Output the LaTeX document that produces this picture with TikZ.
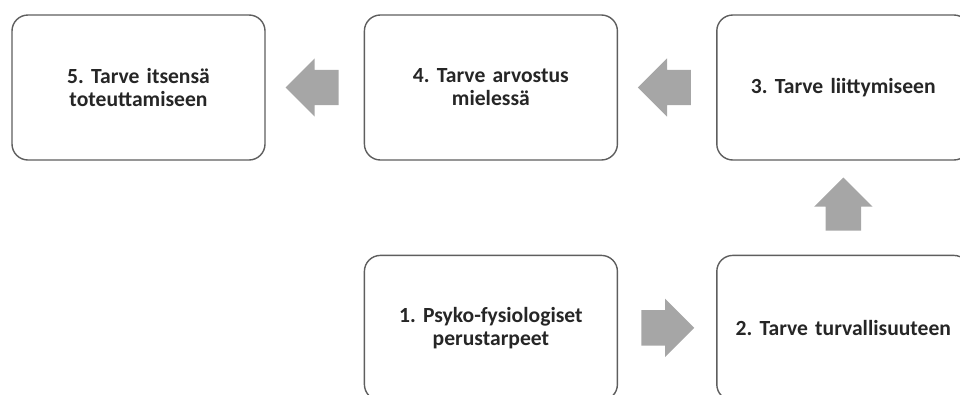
\documentclass[tikz,border=0pt]{standalone}
\usepackage{fontspec}
\setmainfont{Carlito}
\usetikzlibrary{positioning, shapes.arrows, calc}
\definecolor{boxline}{HTML}{5E5E5E}
\definecolor{arrowgray}{HTML}{A6A6A6}
\definecolor{textdark}{HTML}{262626}
\frenchspacing

\begin{document}
\begin{tikzpicture}[x=1pt, y=-1pt,
    needbox/.style={rectangle, rounded corners=16pt, draw=boxline, line width=1.4pt, fill=white,
        minimum width=253pt, minimum height=145pt, text width=245pt, align=center,
        text=textdark, font=\fontsize{21.6}{23}\selectfont\bfseries},
    blockarrow/.style={single arrow, fill=arrowgray, draw=none, inner xsep=0pt, inner ysep=17.5pt,
        minimum height=53pt, single arrow head extend=11.5pt, anchor=tail}]

    \useasboundingbox (0,0) rectangle (960,394);
    \clip (0,0) rectangle (960,394);

    % Nodes
    \node[needbox] (b5) at (138.5,87.5) {5. Tarve itsensä\\toteuttamiseen};
    \node[needbox, right=98pt of b5] (b4) {4. Tarve arvostus\\mielessä};
    \node[needbox, right=98pt of b4] (b3) {3. Tarve liittymiseen};
    \node[needbox, below=94pt of b3] (b2) {2. Tarve turvallisuuteen};
    \node[needbox, left=98pt of b2] (b1) {1. Psyko-fysiologiset\\perustarpeet};

    % Arrows
    \node[blockarrow] (a12) at ([xshift=23pt]b1.east) {};
    \node[blockarrow, rotate=90] (a23) at ([yshift=24pt]b2.north) {};
    \node[blockarrow, rotate=180] (a34) at ([xshift=-25pt]b3.west) {};
    \node[blockarrow, rotate=180] (a45) at ([xshift=-25pt]b4.west) {};

\end{tikzpicture}
\end{document}
